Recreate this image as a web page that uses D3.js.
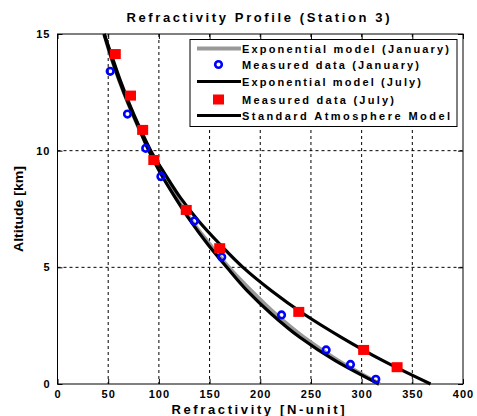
<!DOCTYPE html>
<html>
<head>
<meta charset="utf-8">
<script src="https://cdn.jsdelivr.net/npm/d3@7"></script>
<style>
  body { margin: 0; background: #fff; }
  svg text { font-family: "Liberation Sans", Arial, sans-serif; font-weight: bold; fill: #000; }
</style>
</head>
<body>
<div id="chart"></div>
<script>
// altitude grid for the model curves (km)
const altitudes = [0, 1, 2, 3, 4, 5, 6, 7, 8, 9, 10, 11, 12, 13, 14, 15];
// refractivity values (N-unit)
const expJanuary = [318, 277, 243, 215, 191, 169, 150, 132, 117, 103, 91, 80, 70, 61, 53, 46];
const expJuly = [368, 321, 280, 243, 211, 183, 160, 139, 121, 106, 92, 81, 71, 62, 54, 46];
const standardAtm = [317, 274, 239, 211, 187, 167, 148, 131, 116, 102, 90, 80, 70, 61, 53, 46];

// measured points
const janN = [314, 289, 265, 221, 162, 135, 102, 87, 69, 52];
const janH = [0.2, 0.84, 1.46, 2.96, 5.44, 6.99, 8.89, 10.1, 11.57, 13.4];
const julN = [335, 302, 238, 160, 127, 95, 84, 72, 57];
const julH = [0.72, 1.46, 3.09, 5.82, 7.46, 9.6, 10.89, 12.36, 14.14];

const xTicks = [0, 50, 100, 150, 200, 250, 300, 350, 400];
const yTicks = [0, 5, 10, 15];

const width = 477, height = 416;
const margin = { top: 34, right: 14, bottom: 32, left: 57.5 };

const svg = d3.select('#chart').append('svg')
  .attr('width', width)
  .attr('height', height);

const x = d3.scaleLinear().domain([0, 400]).range([margin.left, width - margin.right]);
const y = d3.scaleLinear().domain([0, 15]).range([height - margin.bottom, margin.top]);

// grid (dashed)
svg.append('g')
  .selectAll('line.vg')
  .data(xTicks.slice(1, -1))
  .join('line')
  .attr('x1', d => x(d)).attr('x2', d => x(d))
  .attr('y1', y(15)).attr('y2', y(0))
  .attr('stroke', '#000').attr('stroke-width', 1)
  .attr('stroke-dasharray', '3,3');

svg.append('g')
  .selectAll('line.hg')
  .data(yTicks.slice(1, -1))
  .join('line')
  .attr('x1', x(0)).attr('x2', x(400))
  .attr('y1', d => y(d)).attr('y2', d => y(d))
  .attr('stroke', '#000').attr('stroke-width', 1)
  .attr('stroke-dasharray', '3,3');

// axes, inward ticks
const xAxis = svg.append('g')
  .attr('transform', `translate(0,${y(0)})`)
  .call(d3.axisBottom(x).tickValues(xTicks).tickSize(-5).tickPadding(6));
const yAxis = svg.append('g')
  .attr('transform', `translate(${x(0)},0)`)
  .call(d3.axisLeft(y).tickValues(yTicks).tickSize(-5).tickPadding(7));
svg.append('g')
  .attr('transform', `translate(0,${y(15)})`)
  .call(d3.axisTop(x).tickValues(xTicks).tickSize(-5).tickFormat(''));
svg.append('g')
  .attr('transform', `translate(${x(400)},0)`)
  .call(d3.axisRight(y).tickValues(yTicks).tickSize(-5).tickFormat(''));

svg.selectAll('.domain').remove();
svg.selectAll('.tick line').attr('stroke', '#000');
[xAxis, yAxis].forEach(a => a.selectAll('text')
  .style('font-size', '11px')
  .style('font-weight', 'bold')
  .style('letter-spacing', '1px')
  .style('font-family', '"Liberation Sans", Arial, sans-serif'));

svg.append('rect')
  .attr('x', x(0)).attr('y', y(15))
  .attr('width', x(400) - x(0)).attr('height', y(0) - y(15))
  .attr('fill', 'none').attr('stroke', '#000').attr('stroke-width', 1);

// curves
const line = d3.line()
  .x(d => x(d[0]))
  .y(d => y(d[1]))
  .curve(d3.curveMonotoneY);

const pairs = arr => arr.map((n, i) => [n, altitudes[i]]);

svg.append('path')
  .attr('d', line(pairs(expJanuary)))
  .attr('fill', 'none').attr('stroke', '#999').attr('stroke-width', 4);
svg.append('path')
  .attr('d', line(pairs(expJuly)))
  .attr('fill', 'none').attr('stroke', '#000').attr('stroke-width', 3.2);
svg.append('path')
  .attr('d', line(pairs(standardAtm)))
  .attr('fill', 'none').attr('stroke', '#000').attr('stroke-width', 3.2);

// measured points
svg.append('g').selectAll('circle')
  .data(janN.map((n, i) => [n, janH[i]]))
  .join('circle')
  .attr('cx', d => x(d[0])).attr('cy', d => y(d[1]))
  .attr('r', 3.3)
  .attr('fill', 'none').attr('stroke', '#0000ff').attr('stroke-width', 2.6);

svg.append('g').selectAll('rect')
  .data(julN.map((n, i) => [n, julH[i]]))
  .join('rect')
  .attr('x', d => x(d[0]) - 5.5).attr('y', d => y(d[1]) - 5)
  .attr('width', 11).attr('height', 10)
  .attr('fill', '#ff0000');

// legend
const legend = svg.append('g');
legend.append('rect')
  .attr('x', 190).attr('y', 39.5)
  .attr('width', 267).attr('height', 87)
  .attr('fill', '#fff').attr('stroke', '#000').attr('stroke-width', 1);

const legendItems = [
  { label: 'Exponential model (January)', type: 'line', color: '#999', w: 207 },
  { label: 'Measured data (January)', type: 'circle', color: '#0000ff', w: 177 },
  { label: 'Exponential model (July)', type: 'line', color: '#000', w: 179 },
  { label: 'Measured data (July)', type: 'square', color: '#ff0000', w: 152 },
  { label: 'Standard Atmosphere Model', type: 'line', color: '#000', w: 208 }
];
const rowY = [48.5, 64.5, 81.5, 99.5, 115.5];

legendItems.forEach((d, i) => {
  const cy = rowY[i];
  if (d.type === 'line') {
    legend.append('line')
      .attr('x1', 197).attr('x2', 241)
      .attr('y1', cy).attr('y2', cy)
      .attr('stroke', d.color).attr('stroke-width', d.color === '#999' ? 4 : 3);
  } else if (d.type === 'circle') {
    legend.append('circle')
      .attr('cx', 218.5).attr('cy', cy).attr('r', 3.3)
      .attr('fill', 'none').attr('stroke', d.color).attr('stroke-width', 2.6);
  } else {
    legend.append('rect')
      .attr('x', 213).attr('y', cy - 5).attr('width', 11).attr('height', 10)
      .attr('fill', d.color);
  }
  legend.append('text')
    .attr('x', 242).attr('y', cy + 4)
    .attr('textLength', d.w).attr('lengthAdjust', 'spacing')
    .style('font-size', '11px')
    .text(d.label);
});

// title and axis labels
svg.append('text')
  .attr('x', 258).attr('y', 22)
  .attr('text-anchor', 'middle')
  .attr('textLength', 263).attr('lengthAdjust', 'spacing')
  .style('font-size', '13px')
  .text('Refractivity Profile (Station 3)');

svg.append('text')
  .attr('x', 258).attr('y', 414)
  .attr('text-anchor', 'middle')
  .attr('textLength', 173).attr('lengthAdjust', 'spacing')
  .style('font-size', '13px')
  .text('Refractivity [N-unit]');

svg.append('text')
  .attr('transform', `translate(23,${(y(0) + y(15)) / 2}) rotate(-90)`)
  .attr('text-anchor', 'middle')
  .attr('textLength', 86).attr('lengthAdjust', 'spacingAndGlyphs')
  .style('font-size', '13px')
  .text('Altitude [km]');
</script>
</body>
</html>
